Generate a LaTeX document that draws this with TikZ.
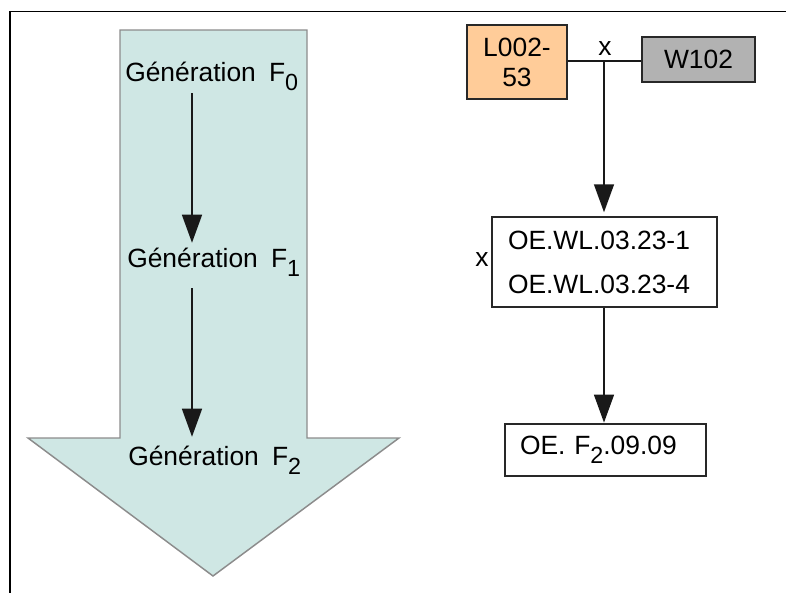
\documentclass[tikz,border=0pt]{standalone}
\usepackage{fontspec}
\setmainfont{Liberation Sans}
\usetikzlibrary{arrows.meta}
\definecolor{shaftfill}{RGB}{207,231,228}
\definecolor{shaftline}{RGB}{140,140,140}
\definecolor{peach}{RGB}{255,204,153}
\definecolor{greybox}{RGB}{178,178,178}
\definecolor{boxline}{RGB}{40,40,40}
\newcommand{\lowsub}[1]{\raisebox{-6.75pt}{\fontsize{17.5}{18}\selectfont #1}}
\tikzset{
  bigfont/.style={font=\fontsize{19.8}{22}\selectfont},
  gentext/.style={bigfont, inner sep=0pt, anchor=base west, text height=14pt, text depth=7pt},
  plainbox/.style={draw=boxline, line width=1.1pt, bigfont},
  conn/.style={line width=1.1pt, draw=black!90},
  tiparrow/.style={conn, -{Triangle[length=21pt,width=15pt]}},
}
\begin{document}
\begin{tikzpicture}[x=0.75pt,y=-0.75pt]
\useasboundingbox (0,0) rectangle (786,593);
% frame
\draw[line width=1pt] (10,593) -- (10,11.5) -- (786,11.5);
% big arrow
\draw[fill=shaftfill, draw=shaftline, line width=1.1pt]
  (120,30) -- (307,30) -- (307,438) -- (399,438) -- (213,576) -- (28,438) -- (120,438) -- cycle;
% generation labels
\node[gentext] (g0) at (125,81) {Génération\hspace{0.5em}F\lowsub{0}};
\node[gentext] (g1) at (127,267) {Génération\hspace{0.5em}F\lowsub{1}};
\node[gentext] (g2) at (128,465) {Génération\hspace{0.5em}F\lowsub{2}};
\coordinate (ax) at (192,0);
\draw[tiparrow, shorten <=2pt, shorten >=4pt] (g0.south -| ax) -- (g1.north -| ax);
\draw[tiparrow, shorten <=8.8pt, shorten >=7pt] (g1.south -| ax) -- (g2.north -| ax);
% right side
\node[plainbox, fill=peach, minimum width=75pt, minimum height=55.5pt, align=center, inner sep=0pt,
      font=\fontsize{19.8}{22.5}\selectfont] (L) at (517,62) {L002-\\53};
\node[plainbox, fill=greybox, minimum width=84.75pt, minimum height=33.75pt, inner sep=0pt] (W) at (698.5,59.5) {W102};
\coordinate (J) at (604,61);
\draw[conn] (L.east |- J) -- (W.west |- J);
\node[bigfont, inner sep=0pt, anchor=base] (x1) at (605,55) {x};
\node[plainbox, fill=white, minimum width=168.75pt, minimum height=67.5pt, inner xsep=12pt, inner ysep=0pt,
      text width=144.75pt, align=left, font=\fontsize{19.8}{33}\selectfont] (OE) at (604.5,262)
      {OE.WL.03.23-1\\OE.WL.03.23-4};
\node[bigfont, inner sep=0pt, anchor=base] (x2) at (482,266) {x};
\draw[tiparrow, shorten >=3pt] (J) -- (J |- OE.north);
\node[plainbox, fill=white, minimum width=150.75pt, minimum height=39pt, inner xsep=11.25pt, inner ysep=0pt,
      text width=128.25pt, align=left] (F2) at (605.5,450) {OE. F\lowsub{2}.09.09};
\draw[tiparrow, shorten >=0.5pt] (OE.south -| J) -- (F2.north -| J);
\end{tikzpicture}
\end{document}
